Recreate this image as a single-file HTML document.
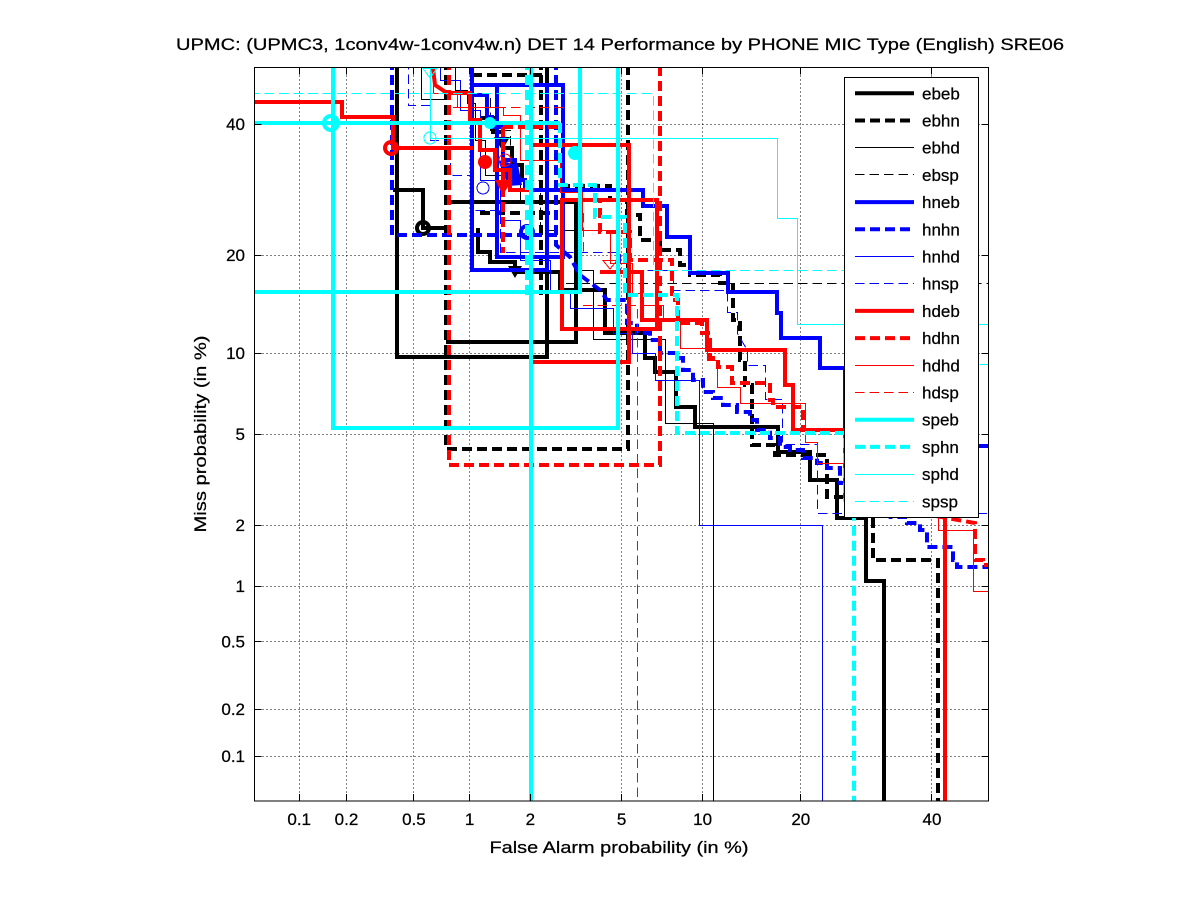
<!DOCTYPE html>
<html><head><meta charset="utf-8"><style>
html,body{margin:0;padding:0;background:#fff;}
svg{display:block;}
text{font-family:"Liberation Sans",Arial,Helvetica,sans-serif;font-size:17px;fill:#000;stroke:#000;stroke-width:0.25px;}
</style></head><body>
<svg width="1201" height="900" viewBox="0 0 1201 900" xmlns="http://www.w3.org/2000/svg">
<defs><clipPath id="pa"><rect x="254.5" y="67.5" width="734" height="733.5"/></clipPath></defs>
<rect width="1201" height="900" fill="#fff"/>
<rect x="254.5" y="67.5" width="734" height="733.5" fill="#fff"/>
<!-- grid -->
<g stroke="#000" stroke-width="1" stroke-dasharray="1 3" fill="none" shape-rendering="crispEdges">
<path d="M299.5,67.5V801M346.5,67.5V801M413.5,67.5V801M469.5,67.5V801M530.5,67.5V801M621.5,67.5V801M702.5,67.5V801M800.5,67.5V801M931.5,67.5V801"/>
<path d="M254.5,124.5H988.5M254.5,255.5H988.5M254.5,353.5H988.5M254.5,434.5H988.5M254.5,525.5H988.5M254.5,586.5H988.5M254.5,641.5H988.5M254.5,709.5H988.5M254.5,756.5H988.5"/>
</g>
<g clip-path="url(#pa)" fill="none" stroke-linejoin="miter">
<!-- ebeb -->
<g stroke="#000" stroke-width="4">
<path d="M397,60V357H547V60"/>
<path d="M393,190H423V228H447"/>
<path d="M447,202H580"/>
<path d="M446,342H576V202"/>
<path d="M478,228V252H490V262H515V272H560V290H605V333H645V358H655V372H676V407H695V427H778V452H810V480H837V518H866V581H884V805"/>
<path d="M480,118H493V132H503V148H512V165H522V180"/>
<circle cx="423" cy="228" r="6"/>
</g>
<path d="M494,137L510,137L502,150Z" fill="#000"/>
<path d="M508,266L522,266L515,278Z" fill="#000"/>
<!-- ebhn -->
<g stroke="#000" stroke-width="4" stroke-dasharray="10 5">
<path d="M446,60V449H628V60"/>
<path d="M472,75H546"/>
<path d="M541,60V295"/>
<path d="M480,213H550"/>
<path d="M560,186H610V200H627V215H640V240H660V250H680V265H690V275H720V283H733V320H740V360H745V385H752V445H775V455H827V497H873V560H938V805"/>
</g>
<!-- ebhd -->
<g stroke="#000" stroke-width="1" shape-rendering="crispEdges">
<path d="M421.5,60V99.5H446"/>
<path d="M455.5,60V90.5H467.5V103.5H475.5V140.5H485.5V175.5H520.5V200.5H560.5V230.5H580.5V270.5H593.5V339.5H665.5V423.5H713.5V805"/>
</g>
<!-- ebsp -->
<g stroke="#000" stroke-width="1" stroke-dasharray="9.5 5" shape-rendering="crispEdges">
<path d="M470.5,60V95.5H490.5V130.5H510.5V180.5H540.5V230.5H560.5V283.5H992"/>
</g>
<!-- hneb -->
<g stroke="#00f" stroke-width="4">
<path d="M472,60V270H547V85"/>
<path d="M472,85H563V257H497V87"/>
<path d="M520,190H643V206H667V237H690V273H728V292H777V313H781V338H820V368H845V446H992"/>
<path d="M472,95H487V117H492V127H503V160H515V180H525V190"/>
</g>
<path d="M498,160L518,165L522,185L508,186Z" fill="#00f"/>
<circle cx="527" cy="232" r="6" fill="none" stroke="#00f" stroke-width="4"/>
<!-- hnhn -->
<g stroke="#00f" stroke-width="4" stroke-dasharray="10 5">
<path d="M392,60V235H560"/>
<path d="M556,60V245L570,257L580,275L600,290L607,300H627V323H637V333H650V340H660V353H677V358H683V370H693V380H703V392H713V398H723V405H737V412H750V420H757V430H770V438H780V447H790V450H803V458H817V463H827V468H840V483H860L890,517H907V523H920V530H927V547H953V560H957V567H992"/>
</g>
<!-- hnhd -->
<g stroke="#00f" stroke-width="1" shape-rendering="crispEdges">
<path d="M440.5,60V80.5H460.5V110.5H480.5V180.5H500.5V220.5H520.5V260.5H550.5V290.5H570.5V308.5H613.5V333.5H632.5V353.5H655.5V380.5H699.5V525.5H822.5V805"/>
<circle cx="483" cy="188" r="6"/>
</g>
<!-- hnsp -->
<g stroke="#00f" stroke-width="1" stroke-dasharray="9.5 5" shape-rendering="crispEdges">
<path d="M408.5,60V105.5H430.5V140.5H450.5V175.5H470.5V210.5H500.5V252.5H620.5V270.5H673.5V290.5H727.5V312.5H737.5V333.5L747.5,350.5V365.5H765.5V399.5H782.5V444.5H817.5V513.5H992"/>
</g>
<!-- hdeb -->
<g stroke="#f00" stroke-width="4">
<path d="M250,102H342V117H393V148H473"/>
<path d="M531,145H629V362H531Z"/>
<path d="M562,200H657V329H562Z"/>
<path d="M600,272H642V320H707V350H785V385H793V430H945V805"/>
<path d="M432,60L435,85L447,93H470V120H480V150H495V170H510V190H531"/>
<circle cx="391" cy="148" r="6"/>
</g>
<circle cx="485" cy="162" r="7" fill="#f00"/>
<path d="M495,180L512,180L503,195Z" fill="#f00"/>
<!-- hdhn -->
<g stroke="#f00" stroke-width="4" stroke-dasharray="10 5">
<path d="M449,60V465H660V60"/>
<path d="M503,127H563M503,127V253"/>
<path d="M563,200H600V232H630V260H672V300H678V323H702V333H710V358H718V367H732V383H770V400H773V407H803V430H845V500L975,523V560H983V565H992"/>
</g>
<!-- hdhd -->
<g stroke="#f00" stroke-width="1" shape-rendering="crispEdges">
<path d="M433.5,60V93.5H457.5V107.5H503.5V115.5H520.5V160.5H560.5V192.5H582.5V230.5H610.5V263.5H632.5V293.5H643.5V305.5H663.5V318.5H680.5V348.5H707.5V360.5H717.5V387.5H740.5V403.5H805.5V442.5H817.5V463.5H900.5V517.5H938.5V530.5H973.5V591.5H992"/>
<circle cx="505" cy="160" r="6"/>
</g>
<!-- hdsp -->
<g stroke="#f00" stroke-width="1" stroke-dasharray="9.5 5" shape-rendering="crispEdges">
<path d="M453,107.5H565"/>
<path d="M583.5,213V253"/>
<path d="M583,305.5H637.5V805"/>
<path d="M603,260.5H617L610,269Z" stroke-dasharray="none"/>
</g>
<!-- speb -->
<g stroke="#0ff" stroke-width="4">
<path d="M250,123H560"/>
<path d="M333,60V428H618V60"/>
<path d="M250,292H580V60"/>
<path d="M531,60V805"/>
<circle cx="331" cy="123" r="7"/>
</g>
<circle cx="575" cy="153" r="7" fill="#0ff"/>
<circle cx="490" cy="123" r="6" fill="#0ff"/>
<!-- sphn -->
<g stroke="#0ff" stroke-width="4" stroke-dasharray="10 5">
<path d="M527,60V295"/>
<path d="M500,123H560V185H595V217H625V295H677V433H845V500L854,517V805"/>
</g>
<!-- sphd -->
<g stroke="#0ff" stroke-width="1" shape-rendering="crispEdges">
<path d="M430.5,60V138.5H777.5V218.5H797.5V324.5H992"/>
<circle cx="430" cy="138" r="6"/>
<path d="M423,68.5H437L430,78Z"/>
</g>
<!-- spsp -->
<g stroke="#0ff" stroke-width="1" stroke-dasharray="9.5 5" shape-rendering="crispEdges">
<path d="M250,93.5H653.5V270.5H900.5V364.5H992"/>
</g>
</g>
<!-- axes box & ticks -->
<g shape-rendering="crispEdges">
<rect x="254.5" y="67.5" width="734" height="733.5" fill="none" stroke="#000" stroke-width="1"/>
<g stroke="#000" stroke-width="1">
<path d="M299.5,801v-7M346.5,801v-7M413.5,801v-7M469.5,801v-7M530.5,801v-7M621.5,801v-7M702.5,801v-7M800.5,801v-7M931.5,801v-7"/>
<path d="M299.5,67.5v7M346.5,67.5v7M413.5,67.5v7M469.5,67.5v7M530.5,67.5v7M621.5,67.5v7M702.5,67.5v7M800.5,67.5v7M931.5,67.5v7"/>
<path d="M254.5,124.5h7M254.5,255.5h7M254.5,353.5h7M254.5,434.5h7M254.5,525.5h7M254.5,586.5h7M254.5,641.5h7M254.5,709.5h7M254.5,756.5h7"/>
<path d="M988.5,124.5h-7M988.5,255.5h-7M988.5,353.5h-7M988.5,434.5h-7M988.5,525.5h-7M988.5,586.5h-7M988.5,641.5h-7M988.5,709.5h-7M988.5,756.5h-7"/>
</g>
</g>
<!-- tick labels -->
<g text-anchor="middle">
<text x="299.2" y="825">0.1</text>
<text x="346.5" y="825">0.2</text>
<text x="413.9" y="825">0.5</text>
<text x="469.6" y="825">1</text>
<text x="530.4" y="825">2</text>
<text x="621.6" y="825">5</text>
<text x="702.6" y="825">10</text>
<text x="800.8" y="825">20</text>
<text x="932" y="825">40</text>
</g>
<g text-anchor="end">
<text x="245" y="130">40</text>
<text x="245" y="261">20</text>
<text x="245" y="359">10</text>
<text x="245" y="440">5</text>
<text x="245" y="531">2</text>
<text x="245" y="592">1</text>
<text x="245" y="647.5">0.5</text>
<text x="245" y="715">0.2</text>
<text x="245" y="762">0.1</text>
</g>
<text x="619" y="853" text-anchor="middle" textLength="259" lengthAdjust="spacingAndGlyphs">False Alarm probability (in %)</text>
<text transform="translate(206,434) rotate(-90)" text-anchor="middle" textLength="197" lengthAdjust="spacingAndGlyphs">Miss probability (in %)</text>
<text x="620" y="50" text-anchor="middle" textLength="888" lengthAdjust="spacingAndGlyphs">UPMC: (UPMC3, 1conv4w-1conv4w.n) DET 14 Performance by PHONE MIC Type (English) SRE06</text>
<!-- legend -->
<rect x="844.5" y="77.5" width="134" height="440" fill="#fff" stroke="#000" stroke-width="1" shape-rendering="crispEdges"/>
<g fill="none">
<path d="M855,93.3H914" stroke="#000" stroke-width="4"/>
<path d="M855,120.5H914" stroke="#000" stroke-width="4" stroke-dasharray="10 5"/>
<path d="M855,147.5H914" stroke="#000" stroke-width="1" shape-rendering="crispEdges"/>
<path d="M855,174.5H914" stroke="#000" stroke-width="1" stroke-dasharray="9.5 5" shape-rendering="crispEdges"/>
<path d="M855,202.1H914" stroke="#00f" stroke-width="4"/>
<path d="M855,229.3H914" stroke="#00f" stroke-width="4" stroke-dasharray="10 5"/>
<path d="M855,256.5H914" stroke="#00f" stroke-width="1" shape-rendering="crispEdges"/>
<path d="M855,283.5H914" stroke="#00f" stroke-width="1" stroke-dasharray="9.5 5" shape-rendering="crispEdges"/>
<path d="M855,310.9H914" stroke="#f00" stroke-width="4"/>
<path d="M855,338.1H914" stroke="#f00" stroke-width="4" stroke-dasharray="10 5"/>
<path d="M855,365.5H914" stroke="#f00" stroke-width="1" shape-rendering="crispEdges"/>
<path d="M855,392.5H914" stroke="#f00" stroke-width="1" stroke-dasharray="9.5 5" shape-rendering="crispEdges"/>
<path d="M855,419.7H914" stroke="#0ff" stroke-width="4"/>
<path d="M855,446.9H914" stroke="#0ff" stroke-width="4" stroke-dasharray="10 5"/>
<path d="M855,474.5H914" stroke="#0ff" stroke-width="1" shape-rendering="crispEdges"/>
<path d="M855,501.5H914" stroke="#0ff" stroke-width="1" stroke-dasharray="9.5 5" shape-rendering="crispEdges"/>
</g>
<g>
<text x="922" y="99.3">ebeb</text>
<text x="922" y="126.5">ebhn</text>
<text x="922" y="153.7">ebhd</text>
<text x="922" y="180.9">ebsp</text>
<text x="922" y="208.1">hneb</text>
<text x="922" y="235.3">hnhn</text>
<text x="922" y="262.5">hnhd</text>
<text x="922" y="289.7">hnsp</text>
<text x="922" y="316.9">hdeb</text>
<text x="922" y="344.1">hdhn</text>
<text x="922" y="371.3">hdhd</text>
<text x="922" y="398.5">hdsp</text>
<text x="922" y="425.7">speb</text>
<text x="922" y="452.9">sphn</text>
<text x="922" y="480.1">sphd</text>
<text x="922" y="507.3">spsp</text>
</g>
</svg>
</body></html>
